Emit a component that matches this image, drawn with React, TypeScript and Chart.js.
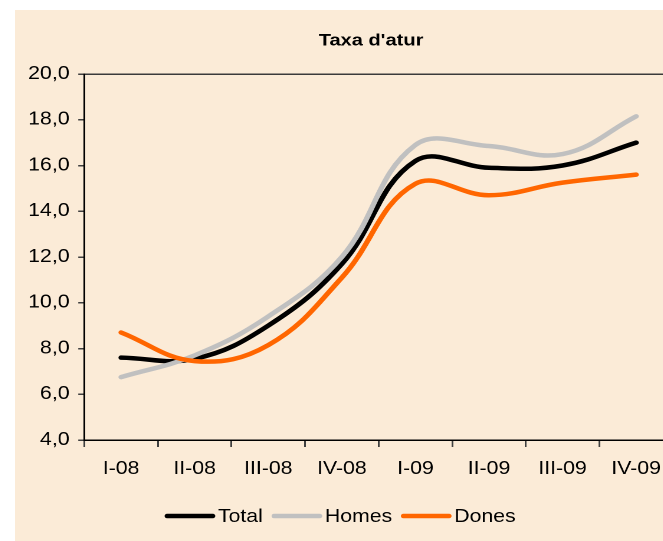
import React, { useEffect, useRef } from 'react';
import { Chart, registerables } from 'chart.js';

Chart.register(...registerables);

const titleText = "Taxa d'atur";
const categories = ['I-08', 'II-08', 'III-08', 'IV-08', 'I-09', 'II-09', 'III-09', 'IV-09'];
const seriesNames = ['Total', 'Homes', 'Dones'];
const totalValues = [7.6, 7.55, 9.0, 11.7, 16.2, 15.9, 16.0, 17.0];
const homesValues = [6.75, 7.7, 9.4, 12.0, 16.9, 16.85, 16.5, 18.15];
const donesValues = [8.7, 7.45, 8.15, 11.1, 15.2, 14.7, 15.25, 15.6];
const yMin = 4;
const yMax = 20;
const yStep = 2;

const FONT = '"Liberation Sans", Arial, sans-serif';
const STRETCH = 1.18;
const CANVAS_W = 566;
const CANVAS_H = 531;

const overlayPlugin = {
  id: 'overlay',
  afterDraw(chart: any) {
    const ctx = chart.ctx as CanvasRenderingContext2D;
    ctx.save();
    ctx.fillStyle = '#000';
    ctx.font = `bold 17px ${FONT}`;
    ctx.textAlign = 'center';
    ctx.textBaseline = 'middle';
    ctx.fillText(titleText, 301.7, 31);

    ctx.font = `18px ${FONT}`;
    const ly = 506;
    let x = 127;
    chart.data.datasets.forEach((ds: any) => {
      ctx.strokeStyle = ds.borderColor;
      ctx.lineWidth = 4.5;
      ctx.lineCap = 'round';
      ctx.beginPath();
      ctx.moveTo(x + 2, ly);
      ctx.lineTo(x + 40.5, ly);
      ctx.stroke();
      ctx.textAlign = 'left';
      ctx.textBaseline = 'middle';
      ctx.fillStyle = '#000';
      ctx.fillText(ds.label, x + 45, ly + 1);
      x += 45 + ctx.measureText(ds.label).width + 7.6;
    });
    ctx.restore();
  },
};

export default function App() {
  const ref = useRef<HTMLCanvasElement | null>(null);

  useEffect(() => {
    if (!ref.current) return;
    const lineStyle = {
      borderWidth: 4.5,
      pointRadius: 0,
      fill: false,
      tension: 0.4,
      borderCapStyle: 'round' as const,
      borderJoinStyle: 'round' as const,
    };
    const chart = new Chart(ref.current, {
      type: 'line',
      data: {
        labels: categories,
        datasets: [
          { label: seriesNames[0], data: totalValues, borderColor: '#000000', backgroundColor: '#000000', order: 2, ...lineStyle },
          { label: seriesNames[1], data: homesValues, borderColor: '#C0C0C0', backgroundColor: '#C0C0C0', order: 1, ...lineStyle },
          { label: seriesNames[2], data: donesValues, borderColor: '#FF6600', backgroundColor: '#FF6600', order: 0, ...lineStyle },
        ],
      },
      options: {
        animation: false,
        responsive: false,
        devicePixelRatio: 2,
        events: [],
        layout: { padding: { top: 64, right: 8.4, bottom: 61, left: 0 } },
        font: { family: FONT, size: 18 },
        plugins: {
          legend: { display: false },
          title: { display: false },
          tooltip: { enabled: false },
        },
        scales: {
          x: {
            type: 'category',
            offset: true,
            grid: {
              offset: true,
              drawOnChartArea: false,
              drawTicks: true,
              tickLength: 7,
              tickColor: '#404040',
              lineWidth: 1.5,
            },
            border: { display: true, color: '#000', width: 1.5 },
            ticks: {
              color: '#000',
              padding: 11,
              maxRotation: 0,
              autoSkip: false,
              font: { family: FONT, size: 18 },
            },
            afterFit: (s: any) => { s.height = 40; },
          },
          y: {
            min: yMin,
            max: yMax,
            ticks: {
              stepSize: yStep,
              color: '#000',
              padding: 7.4,
              font: { family: FONT, size: 18 },
              callback: (v: any) => Number(v).toFixed(1).replace('.', ','),
            },
            grid: {
              color: (c: any) => (c.tick && c.tick.value === yMax ? '#3a3a3a' : 'rgba(0,0,0,0)'),
              lineWidth: 1.5,
              drawTicks: true,
              tickLength: 5.1,
              tickColor: '#404040',
            },
            border: { display: true, color: '#000', width: 1.5 },
            afterFit: (s: any) => { s.width = 58.7; },
          },
        },
      },
      plugins: [overlayPlugin],
    });
    return () => chart.destroy();
  }, []);

  return (
    <div
      style={{
        position: 'absolute',
        left: 15,
        top: 10,
        width: 648,
        height: 531,
        overflow: 'hidden',
        background: '#FBEBD7',
      }}
    >
      <div style={{ transform: `scaleX(${STRETCH})`, transformOrigin: '0 0', width: CANVAS_W, height: CANVAS_H }}>
        <canvas
          ref={ref}
          width={CANVAS_W}
          height={CANVAS_H}
          style={{ display: 'block', width: CANVAS_W, height: CANVAS_H }}
        />
      </div>
    </div>
  );
}
